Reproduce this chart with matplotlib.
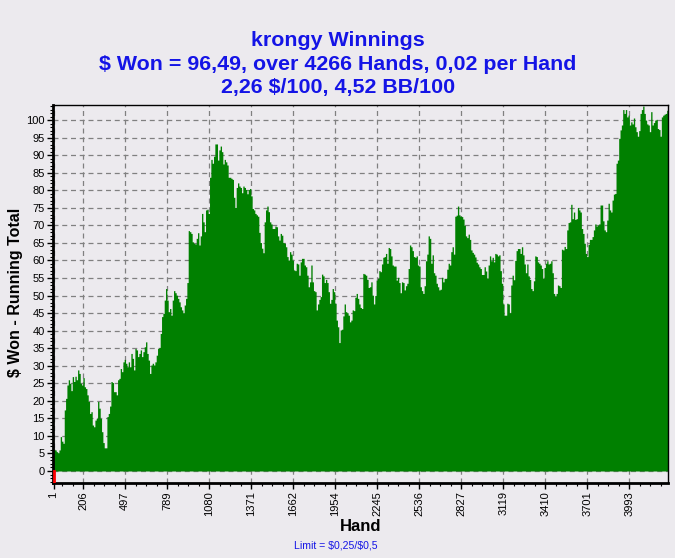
import numpy as np
import matplotlib
matplotlib.use('Agg')
import matplotlib.pyplot as plt
from matplotlib.ticker import FixedLocator, MultipleLocator

plt.rcParams['font.family'] = ['Liberation Sans', 'DejaVu Sans']

# Running total (roughly every 9 hands)
seg1 = [6.2, 6.0, 5.5, 5.2, 6, 9.8, 8.5, 7.9, 17.4, 20.7, 24.5, 26, 25, 22.9, 26.9, 25.5,
        27, 26, 28.8, 27.8, 25, 24.5, 26.6, 24, 23.5, 21.7, 19.8, 16.4, 16.9, 13.1, 12.6, 14.5,
        15, 19.8, 17.9, 15, 11.2, 8.1, 6.6, 6.6, 15.5, 16.4, 18.5, 25.5, 25.2, 22.6, 22.6, 21.7,
        26, 26.4, 29.2, 28.3, 31.1, 31.8, 30.7, 29.7, 31.1, 29.7, 33.5, 32.1, 28.8, 34.9, 34.5, 32.6,
        33.5, 34.5, 32.6, 34, 35.4, 36.8, 33.5, 31.6, 27.8, 30.2, 30.7, 30.2, 31.1, 33, 34.9, 35.2,
        39.2, 44, 44.9, 48.7, 52, 48.7, 45.4, 46.3, 44.4, 48.7, 51.4, 50.8, 50.1, 49.2, 48.2, 46.8,
        45.9, 45.1, 47.3, 49.2, 53.7, 68.5, 68.2, 67.7, 65.3, 64.9, 64.7, 66.3, 67.9, 64.4, 67, 73.4,
        71, 68.2, 74.4, 74.6, 73.4, 83.7]
seg2 = [88.8, 87.7, 89.7, 93.2, 93.2, 88.6, 91.5, 92.6, 91, 87.5, 88.8, 88.1, 87.2, 83.7, 83.7, 83.4,
        83.1, 78, 75.1, 80.8, 82.1, 81.2, 80.8, 79.3, 81.2, 80.8, 80.2, 79, 80.2, 80.5, 78.4, 74.8,
        74.4, 73.4, 73, 72.6, 68, 65.1, 63.5, 62.2, 71, 74.4, 75.5, 73.9, 71, 70.4, 69.1, 69.1,
        69.8, 69.6, 67, 65.8, 67.7, 67.2, 65.1, 64.9, 63.9, 61.1, 60.1, 62.5, 61.8, 60.1, 57.3, 57.1,
        59.2, 59, 55.8, 59.6, 60.6, 60.6, 58.7, 58.2, 55.8, 52.5, 53.9, 58.7, 53.9, 51.4, 51.1, 45.9,
        47.6, 48.9, 49.7, 56.1, 55.6, 53.7, 54.6, 53.7, 51.1, 47.8, 48.9, 52, 51.1, 47.8, 43, 41.1,
        36.6, 40.2, 40.4, 44.2, 47.6, 45.4, 45.1, 44.4, 42.5, 43, 45.9, 45.7, 49.5, 50.6, 49.2, 47.6,
        46.6]
seg3 = [46.3, 56.3, 56.1, 55.8, 54.6, 52.3, 52.5, 53.9, 50.1, 47.6, 50, 54.4, 54.9, 57.1, 56.8, 59,
        60.9, 61.1, 62, 59.2, 63.7, 63.4, 61.3, 58.7, 58.4, 58.4, 54.4, 55.2, 53.7, 50.8, 53.9, 53.7,
        51.6, 52.8, 53.5, 57.7, 64.4, 63.9, 62.8, 61.1, 60.9, 61.3, 58.7, 58.4, 52.5, 51.4, 50.6, 52.8,
        59.9, 61.8, 67, 66.3, 59.2, 61.6, 56.5, 55.8, 53.5, 52.5, 51.6, 51.8, 55.2, 53.9, 54.9, 54.9,
        57.5, 59.2, 58.7, 62.5, 63.9, 61.8, 72.6, 72.9, 75.5, 73, 72.6, 72.5, 71.8, 70, 67, 66.5,
        67.5, 66, 63, 62.3, 61.8, 61, 59.5, 59, 58.2, 57.7, 56, 56, 58.2, 57, 55, 58.7,
        61.3, 59.9, 60.9, 59.6, 62, 61.8, 61.3, 61.6, 57.1, 53.5, 47.6, 44.4, 44.4, 47.8, 47.6, 45.1]
seg4 = [53, 55.8, 54.5, 60, 62.8, 63.4, 63.4, 62, 63.9, 61.6, 59, 56.5, 59, 55.6, 54.6, 52,
        51.4, 54.2, 61.3, 61.1, 59.6, 59.2, 58.7, 57.7, 54.9, 58, 59.2, 59.9, 59, 59.2, 59.9, 56.5,
        50.6, 49.8, 50.6, 53, 52.8, 52.3, 63.2, 63, 64, 63.4, 68.7, 70.8, 71, 76, 71.9, 73.8,
        71.7, 71.9, 75.1, 74.4, 73.8, 69.1, 67.7, 64.9, 62, 61.1, 64.6, 66, 66, 66.8, 68.7, 70.4,
        69.8, 70.1, 70.4, 75.8, 75.8, 71.3, 68.7, 68.2, 71.5, 76.3, 74.4, 73.8, 77.2, 78.9, 79.1, 87.7,
        88.6, 94.8, 97.2, 98.6, 103, 101.9, 103, 100.9, 101.4, 98.6, 99.5, 98.9, 100.6, 98.1, 96.7, 95.4,
        97, 101.9, 103, 104, 101.9, 100, 98.9, 98.6, 96.7, 102.4, 98.6, 99.3, 100, 100.2, 97.6, 97.3,
        95.4, 100.9, 101.4, 101.7, 101.9, 102.8, 100.2]

won = np.array(seg1 + seg2 + seg3 + seg4)
total_hands = 4266
hands = np.linspace(1, 4262, len(won))

x_ticks = [1, 206, 497, 789, 1080, 1371, 1662, 1954, 2245, 2536, 2827, 3119, 3410, 3701, 3993]
y_ticks = list(range(0, 101, 5))

title_lines = ['krongy Winnings',
               '$ Won = 96,49, over 4266 Hands, 0,02 per Hand',
               '2,26 $/100, 4,52 BB/100']

bg = '#ECEAEE'
blue = '#1414E6'
fig = plt.figure(figsize=(6.75, 5.58), dpi=100, facecolor=bg)
ax = fig.add_axes([53 / 675, 1 - 483 / 558, 615 / 675, 378 / 558])
ax.set_facecolor(bg)

ax.fill_between(hands, won, 0, step='post', color='#008000', lw=0, zorder=2)
ax.plot([1, 1], [0, -3.4], color='red', lw=2, zorder=3)

ax.set_xlim(-3, 4262)
ax.set_ylim(-3.42, 104.3)

ax.xaxis.set_major_locator(FixedLocator(x_ticks))
minor = [206 + k * 72.83 for k in range(-2, 56)]
ax.xaxis.set_minor_locator(FixedLocator([m for m in minor if 0 < m < 4262]))
ax.set_xticklabels([str(t) for t in x_ticks], rotation=90, fontsize=8)
ax.yaxis.set_major_locator(FixedLocator(y_ticks))
ax.yaxis.set_minor_locator(MultipleLocator(1))
ax.set_yticklabels([str(t) for t in y_ticks], fontsize=8)

ax.tick_params(axis='both', which='major', length=4, width=1, color='black', pad=2)
ax.tick_params(axis='both', which='minor', length=2, width=0.8, color='black')

ax.grid(True, which='major', color='#808080', linestyle=(0, (4, 3)), lw=0.9, zorder=1)
ax.set_axisbelow(True)

for s in ['left', 'bottom']:
    ax.spines[s].set_linewidth(2)
for s in ['top', 'right']:
    ax.spines[s].set_linewidth(1)

ax.set_xlabel('Hand', fontsize=12, fontweight='bold', labelpad=2)
ax.set_ylabel('$ Won - Running Total', fontsize=11.5, fontweight='bold', parse_math=False)
ax.yaxis.set_label_coords(-0.048, 0.503)

for i, line in enumerate(title_lines):
    fig.text(338 / 675, 1 - (40 + 24 * i) / 558, line, ha='center', va='center',
             fontsize=15.4, fontweight='bold', color=blue, parse_math=False)
fig.text(336 / 675, 1 - 545 / 558, 'Limit = $0,25/$0,5', ha='center', va='center',
         fontsize=7.6, color=blue, parse_math=False)

fig.savefig('out.png', dpi=100, facecolor=bg)
